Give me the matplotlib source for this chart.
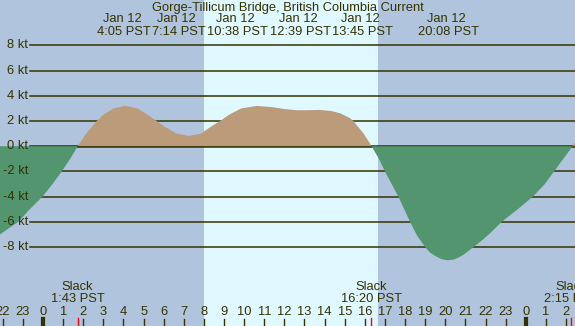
import numpy as np
import matplotlib.pyplot as plt
from matplotlib.transforms import blended_transform_factory

plt.rcParams['font.family'] = ['Liberation Sans', 'DejaVu Sans']

# hours since Jan 12 00:00 PST, current speed in knots
hours = [-2.14, -1.7, -1.23, -0.66, -0.03, 0.47, 0.93, 1.35, 1.72,
         2.15, 2.67, 3.0, 3.5, 4.08, 4.7, 5.2, 5.65, 6.1, 6.65, 7.25,
         7.85, 8.3, 8.8, 9.25, 9.85, 10.63, 11.4, 12.0, 12.65, 13.2,
         13.75, 14.3, 14.77, 15.27, 15.43, 15.93, 16.34,
         16.7, 17.0, 17.67, 18.25, 18.6, 19.0, 19.25, 19.5, 19.8, 20.13,
         20.45, 20.7, 21.0, 21.4, 21.8, 22.23, 22.8, 23.6, 24.35, 24.95,
         25.41, 25.87, 26.33, 26.45]
knots = [-7.0, -6.5, -6.0, -5.0, -4.0, -3.0, -2.0, -1.0, 0.0,
         1.0, 2.0, 2.5, 3.0, 3.2, 3.0, 2.5, 2.0, 1.5, 1.0, 0.82,
         1.0, 1.5, 2.0, 2.5, 3.0, 3.2, 3.1, 2.95, 2.85, 2.86,
         2.88, 2.8, 2.62, 2.22, 2.0, 1.03, 0.0,
         -1.0, -2.0, -4.0, -6.0, -7.1, -8.0, -8.45, -8.7, -8.95, -9.05,
         -8.98, -8.8, -8.5, -8.0, -7.5, -6.9, -6.0, -5.0, -4.0, -3.0,
         -2.0, -1.0, 0.0, 0.35]

# max / min events along the top
event_labels = ["4:05 PST", "7:14 PST", "10:38 PST", "12:39 PST", "13:45 PST", "20:08 PST"]
event_label_pos = [4.03, 6.74, 9.65, 12.78, 15.88, 20.16]  # pushed apart so they don't overlap

slack_hours = [1.72, 16.33, 26.25]
slack_labels = ["1:43 PST", "16:20 PST", "2:15 PST"]

sunrise, sunset = 8.0, 16.67
kt_levels = [8, 6, 4, 2, 0, -2, -4, -6, -8]
hour_ticks = list(range(-2, 27))

W, H = 575, 326
x0, x1 = -2.14, 26.45
y0, y1 = -14.26, 11.6
txt = '#333300'
night = '#b0c4de'
day = '#e0f8ff'
fs = 9.3

fig = plt.figure(figsize=(W / 100, H / 100), dpi=100)
fig.patch.set_facecolor(night)
ax = fig.add_axes([0, 0, 1, 1])
ax.axis('off')
ax.set_xlim(x0, x1)
ax.set_ylim(y0, y1)

ax.axvspan(sunrise, sunset, color=day, lw=0, zorder=0)

left = blended_transform_factory(ax.transAxes, ax.transData)
for k in kt_levels:
    ax.axhline(k, xmin=30 / W, xmax=1, color=txt, lw=1.1, zorder=1)
    ax.text(28 / W, k, f"{k} kt", transform=left, ha='right', va='center',
            fontsize=fs, color=txt, zorder=10)

t = np.array(hours)
v = np.array(knots)
ax.fill_between(t, 0, v, where=v >= 0, interpolate=True, color='#bc9b7b', lw=0, zorder=2)
ax.fill_between(t, 0, v, where=v <= 0, interpolate=True, color='#52956f', lw=0, zorder=4)
# zero line shows over the flood area only
ax.axhline(-0.04, xmin=30 / W, xmax=1, color=txt, lw=1.1, zorder=3)

top = blended_transform_factory(ax.transData, ax.transAxes)
ax.text(12.15, 1 - 8 / H, "Gorge-Tillicum Bridge, British Columbia Current",
        transform=top, ha='center', va='center', fontsize=fs, color=txt, zorder=10)
for pos, lab in zip(event_label_pos, event_labels):
    ax.text(pos - 0.1, 1 - 19.5 / H, "Jan 12", transform=top, ha='center', va='center',
            fontsize=fs, color=txt, zorder=10)
    ax.text(pos, 1 - 32 / H, lab, transform=top, ha='center', va='center',
            fontsize=fs, color=txt, zorder=10)

for h, lab in zip(slack_hours, slack_labels):
    ax.text(h, 1 - 287.5 / H, "Slack", transform=top, ha='center', va='center',
            fontsize=fs, color=txt, zorder=10)
    ax.text(h, 1 - 299.5 / H, lab, transform=top, ha='center', va='center',
            fontsize=fs, color=txt, zorder=10)
    ax.plot([h, h], [0, 8 / H], transform=top, color='red', lw=1, zorder=5)

for h in hour_ticks:
    ax.text(h, 1 - 312 / H, str(h % 24), transform=top, ha='center', va='center',
            fontsize=fs, color=txt, zorder=10)
    lw = 3 if h % 24 == 0 else 1
    ax.plot([h, h], [0, 7 / H], transform=top, color=txt, lw=lw, zorder=5)

fig.savefig('out.png', dpi=100, facecolor=night)
